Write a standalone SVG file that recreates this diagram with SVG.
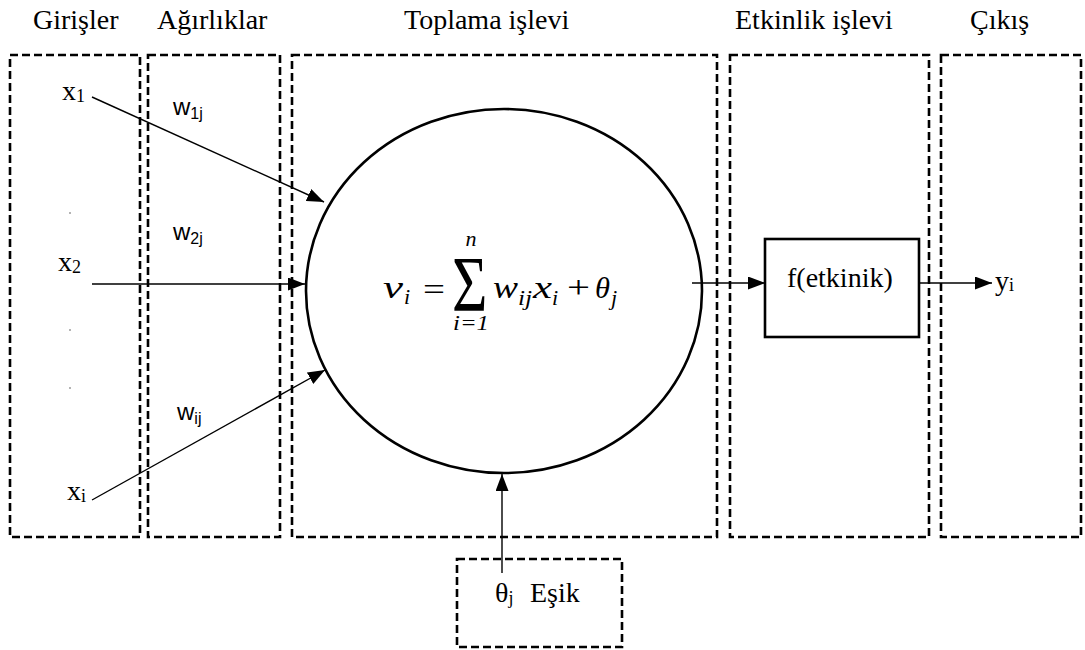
<svg xmlns="http://www.w3.org/2000/svg" width="1085" height="650" viewBox="0 0 1085 650">
<style>
.dash{fill:none;stroke:#000;stroke-width:2.6;stroke-dasharray:8 4}
.conn{fill:none;stroke:#000;stroke-width:1.4}
</style>
<defs>
<marker id="arr" markerUnits="userSpaceOnUse" markerWidth="17" markerHeight="13" viewBox="0 0 17 13" refX="17" refY="6.5" orient="auto">
<path d="M0,0 L17,6.5 L0,13 z" fill="#000"/>
</marker>
</defs>
<rect width="1085" height="650" fill="#fff"/>

<g id="titles">
<text x="33" y="29" style="font-family:'Liberation Serif',serif;font-size:28px">Girişler</text>
<text x="157" y="29" style="font-family:'Liberation Serif',serif;font-size:28px">Ağırlıklar</text>
<text x="404" y="29" style="font-family:'Liberation Serif',serif;font-size:28px">Toplama işlevi</text>
<text x="735" y="29" style="font-family:'Liberation Serif',serif;font-size:28px">Etkinlik işlevi</text>
<text x="970" y="29" style="font-family:'Liberation Serif',serif;font-size:28px">Çıkış</text>
</g>

<g id="box-inputs">
<rect class="dash" x="10" y="55" width="130" height="482"/>
<text x="62" y="100" style="font-family:'Liberation Serif',serif;font-size:28px">x<tspan style="font-size:18px" dy="2">1</tspan></text>
<text x="58" y="271" style="font-family:'Liberation Serif',serif;font-size:28px">x<tspan style="font-size:18px" dy="2">2</tspan></text>
<text x="67" y="500" style="font-family:'Liberation Serif',serif;font-size:28px">x<tspan style="font-size:18px" dy="2">i</tspan></text>
<circle cx="70" cy="213" r="0.8" fill="#555"/>
<circle cx="70" cy="330" r="0.8" fill="#555"/>
<circle cx="70" cy="388" r="0.8" fill="#555"/>
</g>

<g id="box-weights">
<rect class="dash" x="148" y="55" width="132" height="482"/>
<text x="173" y="115" style="font-family:'Liberation Sans',sans-serif;font-size:24px">w<tspan style="font-size:16px" dy="4">1j</tspan></text>
<text x="173" y="240" style="font-family:'Liberation Sans',sans-serif;font-size:24px">w<tspan style="font-size:16px" dy="4">2j</tspan></text>
<text x="177" y="420" style="font-family:'Liberation Sans',sans-serif;font-size:24px">w<tspan style="font-size:16px" dy="4">ij</tspan></text>
</g>

<g id="box-sum">
<rect class="dash" x="292" y="55" width="425" height="482"/>
</g>

<g id="neuron">
<ellipse cx="504" cy="291" rx="198" ry="182" fill="none" stroke="#000" stroke-width="2.6"/>
<text x="383" y="298" textLength="20" lengthAdjust="spacingAndGlyphs" style="font-family:'Liberation Serif',serif;font-style:italic;font-size:32px">v</text>
<text x="404" y="304" style="font-family:'Liberation Serif',serif;font-style:italic;font-size:22px">i</text>
<text x="423" y="300" textLength="22" lengthAdjust="spacingAndGlyphs" style="font-family:'Liberation Serif',serif;font-size:32px">=</text>
<text transform="translate(452,310) scale(0.78,1)" x="0" y="0" style="font-family:'Liberation Serif',serif;font-size:78px">Σ</text>
<text x="471" y="246" text-anchor="middle" style="font-family:'Liberation Serif',serif;font-style:italic;font-size:22px">n</text>
<text x="453" y="330" textLength="36" lengthAdjust="spacingAndGlyphs" style="font-family:'Liberation Serif',serif;font-style:italic;font-size:22px">i=1</text>
<text x="493" y="298" textLength="25" lengthAdjust="spacingAndGlyphs" style="font-family:'Liberation Serif',serif;font-style:italic;font-size:32px">w</text>
<text x="518" y="305" textLength="14" lengthAdjust="spacingAndGlyphs" style="font-family:'Liberation Serif',serif;font-style:italic;font-size:22px">ij</text>
<text x="533" y="298" textLength="19" lengthAdjust="spacingAndGlyphs" style="font-family:'Liberation Serif',serif;font-style:italic;font-size:32px">x</text>
<text x="552" y="305" style="font-family:'Liberation Serif',serif;font-style:italic;font-size:22px">i</text>
<text x="567" y="298" textLength="23" lengthAdjust="spacingAndGlyphs" style="font-family:'Liberation Serif',serif;font-size:32px">+</text>
<text x="595" y="298" textLength="15" lengthAdjust="spacingAndGlyphs" style="font-family:'Liberation Serif',serif;font-style:italic;font-size:30px">θ</text>
<text x="611" y="305" style="font-family:'Liberation Serif',serif;font-style:italic;font-size:22px">j</text>
</g>

<g id="box-activation">
<rect class="dash" x="730" y="55" width="199" height="482"/>
</g>

<g id="f-node">
<rect x="765" y="239" width="154" height="98" fill="none" stroke="#000" stroke-width="2.6"/>
<text x="787" y="287" style="font-family:'Liberation Serif',serif;font-size:28px">f(etkinik)</text>
</g>

<g id="box-output">
<rect class="dash" x="941" y="55" width="140" height="482"/>
<text x="995" y="290" style="font-family:'Liberation Serif',serif;font-size:28px">y<tspan style="font-size:18px" dy="1">i</tspan></text>
</g>

<g id="threshold">
<rect class="dash" x="457" y="559" width="165" height="88"/>
<text x="495" y="602" style="font-family:'Liberation Serif',serif;font-size:28px">θ<tspan style="font-size:18px" dy="2">j</tspan><tspan dy="-2" x="530">Eşik</tspan></text>
</g>

<g id="connectors">
<line class="conn" x1="92" y1="97" x2="324" y2="202" marker-end="url(#arr)"/>
<line class="conn" x1="92" y1="284" x2="305" y2="284" marker-end="url(#arr)"/>
<line class="conn" x1="92" y1="500" x2="325" y2="370" marker-end="url(#arr)"/>
<line class="conn" x1="692" y1="283" x2="765" y2="283" marker-end="url(#arr)"/>
<line class="conn" x1="919" y1="283" x2="992" y2="283" marker-end="url(#arr)"/>
<line class="conn" x1="502" y1="573" x2="502" y2="474" marker-end="url(#arr)"/>
</g>
</svg>
